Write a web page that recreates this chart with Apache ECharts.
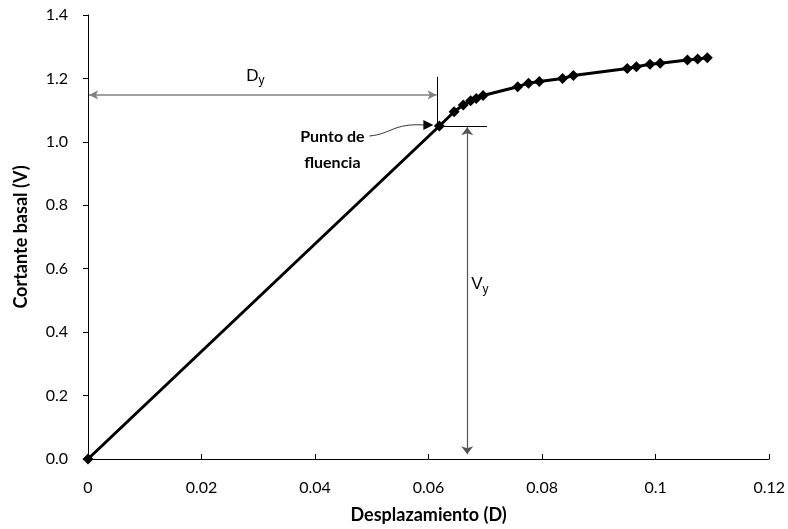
<!DOCTYPE html>
<html>
<head>
<meta charset="utf-8">
<script src="https://cdn.jsdelivr.net/npm/echarts@6/dist/echarts.min.js"></script>
<style>
  html, body { margin: 0; padding: 0; background: #fff; }
  #chart { width: 788px; height: 529px; }
</style>
</head>
<body>
<div id="chart"></div>
<script>
// Capacity (pushover) curve: base shear V vs displacement D
const displacement = [0, 0.0619, 0.0645, 0.0661, 0.0674, 0.0684, 0.0696, 0.0757, 0.0776, 0.0795,
  0.0836, 0.0855, 0.0950, 0.0966, 0.0990, 0.1008, 0.1056, 0.1074, 0.1091];
const baseShear = [0, 1.050, 1.095, 1.116, 1.130, 1.137, 1.146, 1.174, 1.185, 1.190,
  1.200, 1.209, 1.231, 1.237, 1.245, 1.248, 1.258, 1.261, 1.265];

// Yield point and annotation levels
const yieldD = 0.0619;
const yieldV = 1.05;
const dyArrowV = 1.148;      // height of the D_y dimension arrow
const dyTickTopV = 1.205;    // top of the vertical reference line at D_y
const vyArrowD = 0.0668;     // abscissa of the V_y dimension arrow
const vyTickEndD = 0.0703;   // right end of the horizontal reference line at V_y

const xTicks = { min: 0, max: 0.12, interval: 0.02 };
const yTicks = { min: 0, max: 1.4, interval: 0.2 };

const FONT = 'Lato';
const chart = echarts.init(document.getElementById('chart'), null, { renderer: 'canvas' });

const points = displacement.map((d, i) => [d, baseShear[i]]);

const option = {
  backgroundColor: '#fff',
  animation: false,
  textStyle: { fontFamily: FONT },
  grid: { left: 88, right: 18, top: 15, bottom: 69, containLabel: false },
  xAxis: {
    type: 'value',
    min: xTicks.min, max: xTicks.max, interval: xTicks.interval,
    name: 'Desplazamiento (D)',
    nameLocation: 'middle',
    nameGap: 47,
    nameTextStyle: { fontFamily: FONT, fontWeight: 'bold', fontSize: 18, color: '#000' },
    axisLine: { lineStyle: { color: '#000', width: 1 } },
    axisTick: { inside: true, length: 5, lineStyle: { color: '#000' } },
    axisLabel: { fontFamily: FONT, fontSize: 16, color: '#000', margin: 21,
      formatter: v => String(+v.toFixed(2)) },
    splitLine: { show: false }
  },
  yAxis: {
    type: 'value',
    min: yTicks.min, max: yTicks.max, interval: yTicks.interval,
    name: 'Cortante basal (V)',
    nameLocation: 'middle',
    nameGap: 58,
    nameTextStyle: { fontFamily: FONT, fontWeight: 'bold', fontSize: 18, color: '#000' },
    axisLine: { show: true, lineStyle: { color: '#000', width: 1 } },
    axisTick: { show: true, inside: false, length: 5, lineStyle: { color: '#000' } },
    axisLabel: { fontFamily: FONT, fontSize: 16, color: '#000', margin: 20,
      formatter: v => v.toFixed(1) },
    splitLine: { show: false }
  },
  series: [
    {
      type: 'line',
      data: points,
      symbol: 'diamond',
      symbolSize: 11,
      showSymbol: true,
      lineStyle: { color: '#000', width: 3 },
      itemStyle: { color: '#000' },
      z: 5
    },
    {
      // D_y dimension arrow
      type: 'line',
      data: [],
      silent: true,
      markLine: {
        silent: true,
        animation: false,
        data: [
          [
            { coord: [0.0002, dyArrowV], symbol: 'arrow' },
            { coord: [yieldD - 0.0005, dyArrowV], symbol: 'arrow' }
          ]
        ],
        symbolSize: [7, 9],
        lineStyle: { color: '#808080', width: 1.5, type: 'solid' },
        itemStyle: { color: '#000' },
        label: { show: false }
      }
    },
    {
      // reference lines through the yield point
      type: 'line',
      data: [],
      silent: true,
      markLine: {
        silent: true,
        animation: false,
        symbol: ['none', 'none'],
        data: [
          [{ coord: [yieldD - 0.0004, yieldV] }, { coord: [yieldD - 0.0004, dyTickTopV] }],
          [{ coord: [yieldD + 0.0003, yieldV] }, { coord: [vyTickEndD, yieldV] }]
        ],
        lineStyle: { color: '#000', width: 1, type: 'solid' },
        label: { show: false }
      }
    },
    {
      // V_y dimension arrow
      type: 'line',
      data: [],
      silent: true,
      markLine: {
        silent: true,
        animation: false,
        data: [
          [
            { coord: [vyArrowD, yieldV - 0.004], symbol: 'arrow' },
            { coord: [vyArrowD, 0.015], symbol: 'arrow' }
          ]
        ],
        symbolSize: [9, 8],
        lineStyle: { color: '#555', width: 1.2, type: 'solid' },
        label: { show: false }
      }
    },
    {
      // dimension labels
      type: 'scatter',
      data: [],
      silent: true,
      markPoint: {
        symbol: 'circle',
        symbolSize: 0,
        silent: true,
        animation: false,
        data: [
          {
            coord: [0.0295, dyArrowV],
            label: {
              show: true, position: 'top', distance: 8,
              formatter: '{b|D}{s|y}',
              rich: {
                b: { fontFamily: 'Liberation Sans', fontSize: 17, color: '#000' },
                s: { fontFamily: 'Liberation Sans', fontSize: 12, color: '#000', padding: [10, 0, 0, 0] }
              }
            }
          },
          {
            coord: [vyArrowD, 0.55],
            label: {
              show: true, position: 'right', distance: 4,
              formatter: '{b|V}{s|y}',
              rich: {
                b: { fontFamily: 'Liberation Sans', fontSize: 17, color: '#000' },
                s: { fontFamily: 'Liberation Sans', fontSize: 12, color: '#000', padding: [10, 0, 0, 0] }
              }
            }
          }
        ]
      }
    }
  ]
};

chart.setOption(option);

// "Punto de fluencia" callout pointing at the yield point
const yp = chart.convertToPixel({ gridIndex: 0 }, [yieldD, yieldV]);
const tipX = yp[0] - 6, tipY = yp[1] - 1;
const startX = yp[0] - 70, startY = yp[1] + 10;
chart.setOption({
  graphic: [
    {
      type: 'text',
      x: yp[0] - 107, y: yp[1] + 24,
      style: {
        text: 'Punto de\nfluencia',
        fontFamily: FONT, fontWeight: 'bold', fontSize: 16, fill: '#000',
        align: 'center', verticalAlign: 'middle', lineHeight: 26
      },
      z: 10
    },
    {
      type: 'bezierCurve',
      shape: {
        x1: startX, y1: startY,
        x2: tipX - 9, y2: tipY,
        cpx1: startX + 22, cpy1: startY - 2,
        cpx2: startX + 24, cpy2: tipY - 2
      },
      style: { stroke: '#333', lineWidth: 1, fill: null },
      z: 10
    },
    {
      type: 'polygon',
      shape: { points: [[tipX, tipY], [tipX - 10, tipY - 5], [tipX - 10, tipY + 5]] },
      style: { fill: '#000' },
      z: 10
    }
  ]
});
</script>
</body>
</html>
